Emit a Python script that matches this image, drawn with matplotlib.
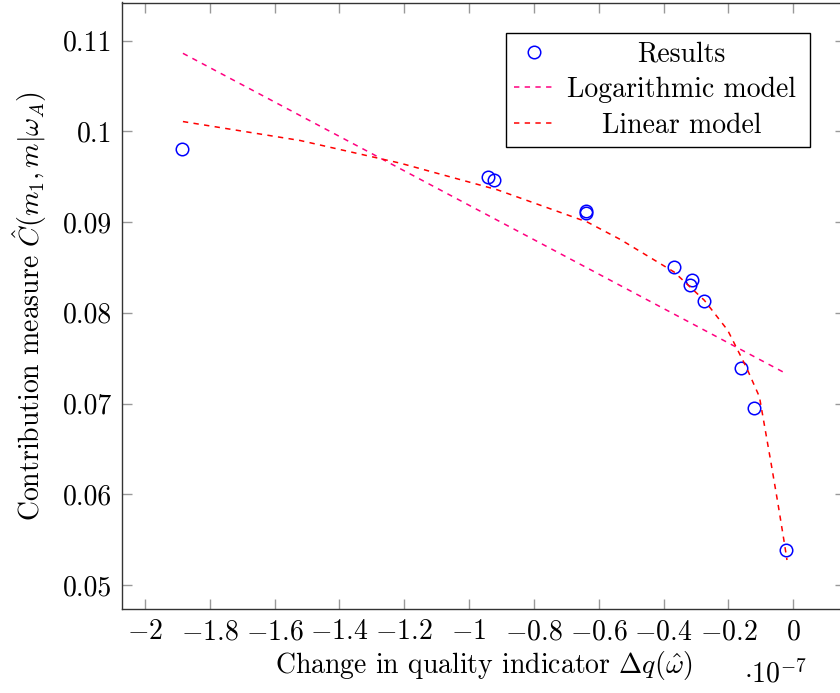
import matplotlib
matplotlib.use("Agg")
import matplotlib.pyplot as plt

plt.rcParams['font.family'] = 'serif'
plt.rcParams['font.serif'] = ['cmr10']
plt.rcParams['mathtext.fontset'] = 'cm'
plt.rcParams['axes.formatter.use_mathtext'] = True

# Results (x in units of 1e-7)
res_x = [-1.886, -0.943, -0.924, -0.640, -0.640, -0.368, -0.312, -0.318, -0.275, -0.161, -0.121, -0.022]
res_y = [0.0981, 0.0950, 0.0946, 0.0912, 0.0910, 0.0850, 0.0836, 0.0831, 0.0813, 0.0739, 0.0695, 0.0539]

# straight model line (drawn magenta)
log_x = [-1.883, -0.032]
log_y = [0.1086, 0.0735]

# curved model line (drawn red)
lin_x = [-1.883, -1.521, -1.212, -0.913, -0.635, -0.532, -0.367, -0.274, -0.202,
         -0.145, -0.104, -0.068, -0.047, -0.027, -0.019]
lin_y = [0.10108, 0.09899, 0.09649, 0.09356, 0.09000, 0.08806, 0.08449, 0.08138, 0.07808,
         0.07404, 0.07074, 0.06340, 0.05900, 0.05460, 0.05276]

xticks = [-2, -1.8, -1.6, -1.4, -1.2, -1, -0.8, -0.6, -0.4, -0.2, 0]
xticklabels = ['$-2$', '$-1.8$', '$-1.6$', '$-1.4$', '$-1.2$', '$-1$', '$-0.8$',
               '$-0.6$', '$-0.4$', '$-0.2$', '$0$']
yticks = [0.05, 0.06, 0.07, 0.08, 0.09, 0.1, 0.11]
yticklabels = ['0.05', '0.06', '0.07', '0.08', '0.09', '0.1', '0.11']

fs = 20

fig = plt.figure(figsize=(8.4, 6.93), dpi=100)
ax = fig.add_axes([122 / 840, 1 - 609 / 693, (845 - 122) / 840, (609 - 2.5) / 693])

ax.plot(res_x, res_y, 'o', mfc='none', mec='blue', ms=9, mew=1.1, label='Results')
ax.plot(log_x, log_y, color='#ff0080', lw=1.1, dashes=(3.5, 3.5), label='Logarithmic model')
ax.plot(lin_x, lin_y, color='red', lw=1.1, dashes=(3.5, 3.5), label='Linear model')

ax.set_xlim(-2.071, 0.16)
ax.set_ylim(0.04736, 0.1142)
ax.set_xticks(xticks)
ax.set_xticklabels(xticklabels)
ax.set_yticks(yticks)
ax.set_yticklabels(yticklabels)
ax.tick_params(direction='in', length=7, width=1, color='#999999', labelsize=fs,
               top=True, right=True, pad=7)
for s in ax.spines.values():
    s.set_color('#333333')
    s.set_linewidth(1)

ax.set_xlabel(r'Change in quality indicator $\Delta q(\hat{\omega})$', fontsize=fs, labelpad=3)
ax.set_ylabel(r'Contribution measure $\hat{C}(m_1, m|\omega_A)$', fontsize=fs, labelpad=10)
fig.text(776 / 840, 1 - 674 / 693, r'$\cdot 10^{-7}$', fontsize=fs, ha='center', va='center')

leg = ax.legend(loc='upper right', bbox_to_anchor=(810 / 840, 1 - 33 / 693),
                bbox_transform=fig.transFigure, fontsize=fs, fancybox=False,
                edgecolor='black', framealpha=1, borderpad=0.3, labelspacing=0.33,
                handlelength=1.4, handletextpad=0.7, borderaxespad=0)
leg.get_frame().set_linewidth(1)

# center the legend texts within their column, like pgfplots
fig.canvas.draw()
renderer = fig.canvas.get_renderer()
widths = [t.get_window_extent(renderer).width for t in leg.get_texts()]
wmax = max(widths)
for t, w in zip(leg.get_texts(), widths):
    t.set_position(((wmax - w) / 2 - 6, 0))

fig.savefig('out.png', dpi=100)
